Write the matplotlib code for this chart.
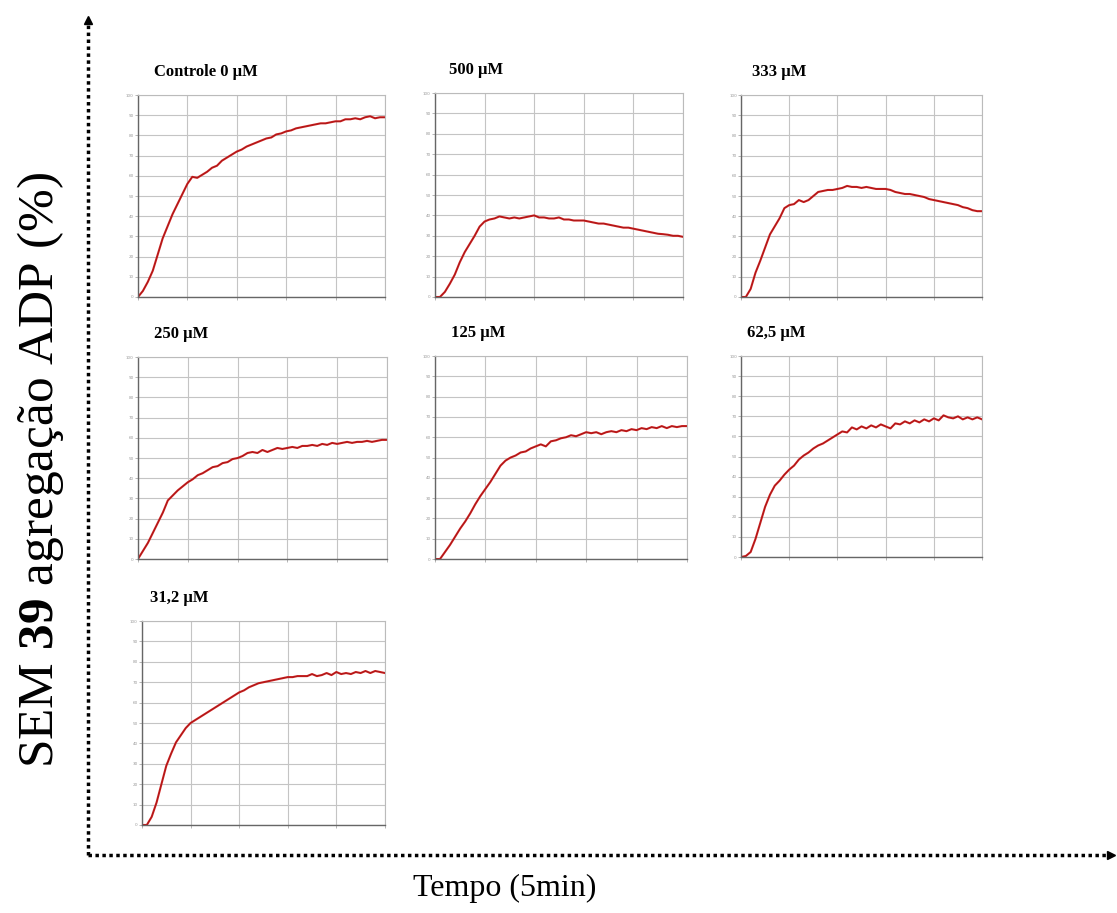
import numpy as np
import matplotlib
matplotlib.use("Agg")
import matplotlib.pyplot as plt
from matplotlib.lines import Line2D

plt.rcParams['mathtext.fontset'] = 'custom'
plt.rcParams['mathtext.rm'] = 'Liberation Serif'
plt.rcParams['mathtext.bf'] = 'Liberation Serif:bold'

# --- DATA (read from the tracings, % aggregation every 6 s over 5 min) ---
tempo_s = np.arange(0, 301, 6)

titulos = ["Controle 0 µM", "500 µM", "333 µM", "250 µM", "125 µM", "62,5 µM", "31,2 µM"]

controle = [0, 3, 7.5, 13, 21, 29, 35, 41, 46, 51, 56, 59.5, 59, 60.5, 62, 64, 65, 67.5, 69, 70.5,
            72, 73, 74.5, 75.5, 76.5, 77.5, 78.5, 79, 80.5, 81, 82, 82.5, 83.5, 84, 84.5, 85, 85.5,
            86, 86, 86.5, 87, 87, 88, 88, 88.5, 88, 89, 89.5, 88.5, 89, 89]
c500 = [0, 0, 2.5, 6.5, 11, 17, 22, 26, 30, 34.5, 37, 38, 38.5, 39.5, 39, 38.5, 39, 38.5, 39, 39.5,
        40, 39, 39, 38.5, 38.5, 39, 38, 38, 37.5, 37.5, 37.5, 37, 36.5, 36, 36, 35.5, 35, 34.5,
        34, 34, 33.5, 33, 32.5, 32, 31.5, 31, 30.8, 30.5, 30, 30, 29.5]
c333 = [0, 0, 4, 12, 18, 24.5, 31, 35, 39, 44, 45.5, 46, 48, 47, 48, 50, 52, 52.5, 53, 53,
        53.5, 54, 55, 54.5, 54.5, 54, 54.5, 54, 53.5, 53.5, 53.5, 53, 52, 51.5, 51, 51, 50.5,
        50, 49.5, 48.5, 48, 47.5, 47, 46.5, 46, 45.5, 44.5, 44, 43, 42.5, 42.5]
c250 = [0, 4, 8, 13, 18, 23, 29, 31.5, 34, 36, 38, 39.5, 41.5, 42.5, 44, 45.5, 46, 47.5, 48, 49.5,
        50, 51, 52.5, 53, 52.5, 54, 53, 54, 55, 54.5, 55, 55.5, 55, 56, 56, 56.5, 56, 57, 56.5,
        57.5, 57, 57.5, 58, 57.5, 58, 58, 58.5, 58, 58.5, 59, 59]
c125 = [0, 0, 3.5, 7, 11, 15, 18.5, 22.5, 27, 31, 34.5, 38, 42, 46, 48.5, 50, 51, 52.5, 53, 54.5,
        55.5, 56.5, 55.5, 58, 58.5, 59.5, 60, 61, 60.5, 61.5, 62.5, 62, 62.5, 61.5, 62.5, 63,
        62.5, 63.5, 63, 64, 63.5, 64.5, 64, 65, 64.5, 65.5, 64.5, 65.5, 65, 65.5, 65.5]
c62 = [0, 0.5, 2.5, 9, 17, 25, 31, 35.5, 38, 41, 43.5, 45.5, 48.5, 50.5, 52, 54, 55.5, 56.5, 58,
       59.5, 61, 62.5, 62, 64.5, 63.5, 65, 64, 65.5, 64.5, 66, 65, 64, 66.5, 66, 67.5, 66.5, 68,
       67, 68.5, 67.5, 69, 68, 70.5, 69.5, 69, 70, 68.5, 69.5, 68.5, 69.5, 68.5]
c31 = [0, 0, 4, 11, 20, 29, 35, 40.5, 44, 47.5, 50, 51.5, 53, 54.5, 56, 57.5, 59, 60.5, 62, 63.5,
       65, 66, 67.5, 68.5, 69.5, 70, 70.5, 71, 71.5, 72, 72.5, 72.5, 73, 73, 73, 74, 73, 73.5,
       74.5, 73.5, 75, 74, 74.5, 74, 75, 74.5, 75.5, 74.5, 75.5, 75, 74.5]

series = [controle, c500, c333, c250, c125, c62, c31]

y_ticks = list(range(0, 101, 10))
x_ticks = list(range(0, 301, 60))

# panel rectangles in figure fractions (left, bottom, width, height)
rects = [
    (0.1235, 0.6747, 0.2211, 0.2212),
    (0.3894, 0.6747, 0.2220, 0.2234),
    (0.6634, 0.6747, 0.2158, 0.2212),
    (0.1235, 0.3877, 0.2229, 0.2212),
    (0.3894, 0.3877, 0.2256, 0.2223),
    (0.6634, 0.3899, 0.2158, 0.2201),
    (0.1271, 0.0964, 0.2175, 0.2234),
]
title_dx = [0.014, 0.013, 0.010, 0.014, 0.014, 0.005, 0.007]

fig = plt.figure(figsize=(11.17, 9.13), dpi=100)

for vals, title, rect, dx in zip(series, titulos, rects, title_dx):
    ax = fig.add_axes(rect)
    ax.plot(tempo_s, vals, color='#d02020', linewidth=1.5)
    ax.plot(tempo_s, vals, color='#6b1010', linewidth=0.4, alpha=0.6)
    ax.set_xlim(0, 300)
    ax.set_ylim(0, 100)
    ax.set_xticks(x_ticks)
    ax.set_yticks(y_ticks)
    ax.set_xticklabels([])
    ax.set_yticklabels([str(v) for v in y_ticks], fontsize=3, color='#777777')
    ax.tick_params(length=2, width=0.5, colors='#999999', pad=1)
    ax.grid(True, color='#c4c4c4', linewidth=0.8)
    for side in ['top', 'right']:
        ax.spines[side].set_color('#bbbbbb')
        ax.spines[side].set_linewidth(0.8)
    for side in ['left', 'bottom']:
        ax.spines[side].set_color('#666666')
        ax.spines[side].set_linewidth(1.0)
    fig.text(rect[0] + dx, rect[1] + rect[3] + 0.017, title, fontsize=12,
             fontweight='bold', family='Liberation Serif', ha='left', va='bottom')

# dotted outer axes with arrow heads
x0, y0 = 0.0788, 0.0635
fig.add_artist(Line2D([x0, x0], [y0, 0.975], transform=fig.transFigure,
                      color='black', linestyle=(0, (1, 1)), linewidth=2.5))
fig.add_artist(Line2D([x0, 0.992], [y0, y0], transform=fig.transFigure,
                      color='black', linestyle=(0, (1, 1)), linewidth=2.5))
fig.add_artist(Line2D([x0], [0.978], transform=fig.transFigure, marker='^',
                      markersize=6, color='black'))
fig.add_artist(Line2D([0.995], [y0], transform=fig.transFigure, marker='>',
                      markersize=6, color='black'))

fig.text(0.036, 0.485, r"SEM $\mathbf{39}$ agregação ADP (%)", rotation=90,
         fontsize=37, family='Liberation Serif', ha='center', va='center')
fig.text(0.452, 0.027, "Tempo (5min)", fontsize=23, family='Liberation Serif',
         ha='center', va='center')

fig.savefig("out.png", dpi=100)
